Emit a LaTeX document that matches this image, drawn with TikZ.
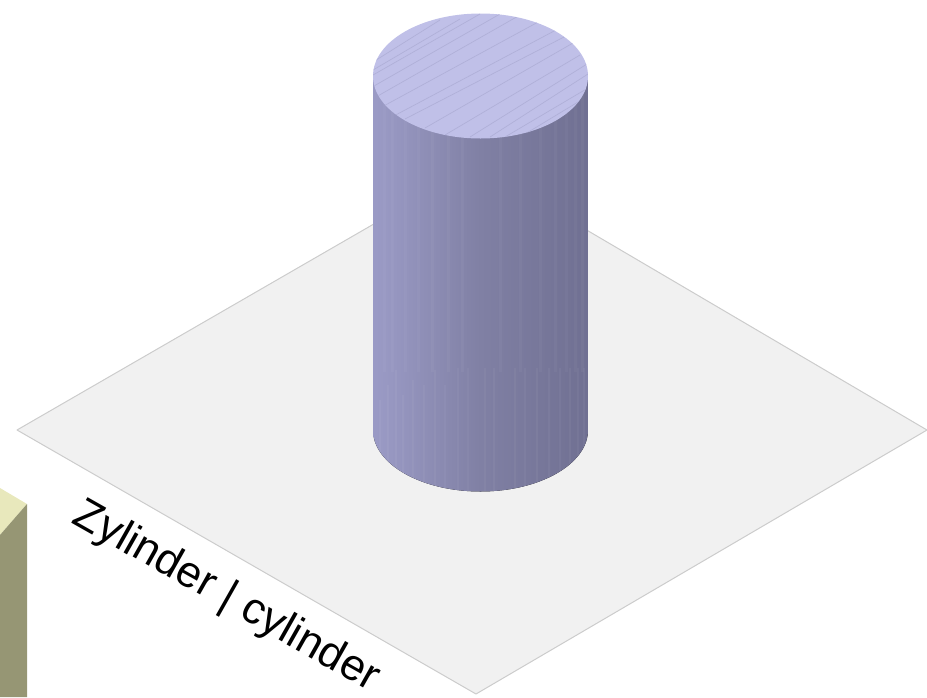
\documentclass[tikz,border=0pt]{standalone}
\usepackage{fontspec}
\setmainfont{Liberation Sans}
\definecolor{planefill}{RGB}{241,241,241}
\definecolor{planeline}{RGB}{204,204,204}
\definecolor{cyltop}{RGB}{192,192,232}
\definecolor{cyltopline}{RGB}{176,176,216}
\definecolor{boxtop}{RGB}{232,232,188}
\definecolor{boxside}{RGB}{150,150,116}
\definecolor{cyl0}{RGB}{178,178,226}
\definecolor{cyl1}{RGB}{166,166,212}
\definecolor{cyl2}{RGB}{150,150,192}
\definecolor{cyl3}{RGB}{128,128,164}
\definecolor{cyl4}{RGB}{110,110,144}
\definecolor{cyl5}{RGB}{118,118,150}
\definecolor{cyl6}{RGB}{130,130,164}
\pgfdeclarehorizontalshading{cylside}{100bp}{
  color(0bp)=(cyl0); color(2bp)=(cyl0); color(12bp)=(cyl1); color(30bp)=(cyl2);
  color(50bp)=(cyl3); color(78bp)=(cyl4); color(90bp)=(cyl5); color(100bp)=(cyl6)}
\tikzset{
  plane/.style={fill=planefill,draw=planeline,line width=1pt,line join=round},
  facet/.style={draw=white,draw opacity=.04,line width=1.4pt},
  topline/.style={draw=cyltopline,line width=.7pt},
  label/.style={font=\fontsize{44}{50}\selectfont,rotate=-29.5,inner sep=0pt,text=black}
}
\begin{document}
\begin{tikzpicture}[x=1pt,y=-1pt]
\useasboundingbox (0,0) rectangle (927,697);
% ground plane
\draw[plane] (17,430) -- (476,165) -- (927,430) -- (476,694) -- cycle;
% cuboid corner
\fill[boxtop] (0,488) -- (27,504) -- (0,535) -- cycle;
\fill[boxside] (27,504) -- (27,697) -- (0,697) -- (0,535) -- cycle;
% cylinder side
\begin{scope}
  \clip (373,76) -- (373,430) arc[start angle=180,end angle=0,x radius=107.5,y radius=61.5] -- (588,76) -- cycle;
  \fill[shading=cylside,shading angle=0] (373,0) rectangle (588,500);
  \foreach \px/\py in {380/400,388/385,396/370,403/395,413/380,424/385,435/370,445/385,458/368,468/368,485/368,494/368,515/368,525/368,537/368,549/368,560/368,570/368,578/368,584/368}
    \draw[facet] (\px,\py) -- (\px,500);
  \foreach \px in {384,392,405,418,432,448,462,500,520,540,555,566,575,582}
    \draw[draw=white,draw opacity=.035,line width=3pt] (\px,76) -- (\px,372);
\end{scope}
% cylinder top
\fill[cyltop] (480.5,76) ellipse[x radius=107.5,y radius=62.5];
\begin{scope}
  \clip (480.5,76) ellipse[x radius=107.5,y radius=62.5];
  \foreach \ax/\ay/\bx/\by in {
    373/62/440/20, 373/70/460/19, 373/75/480/14, 374/86/500/14, 376/97/520/15, 380/108/540/21,
    390/118/556/30, 405/119/564/37, 425/128/573/43, 445/135/580/55, 470/137/587/64,
    490/137/588/74, 505/137/588/88, 525/134/588/96, 550/125/588/104}
    \draw[topline] (\ax,\ay) -- (\bx,\by);
\end{scope}
% caption
\node[label] (caption) at (226,597) {Zylinder | cylinder};
\end{tikzpicture}
\end{document}
